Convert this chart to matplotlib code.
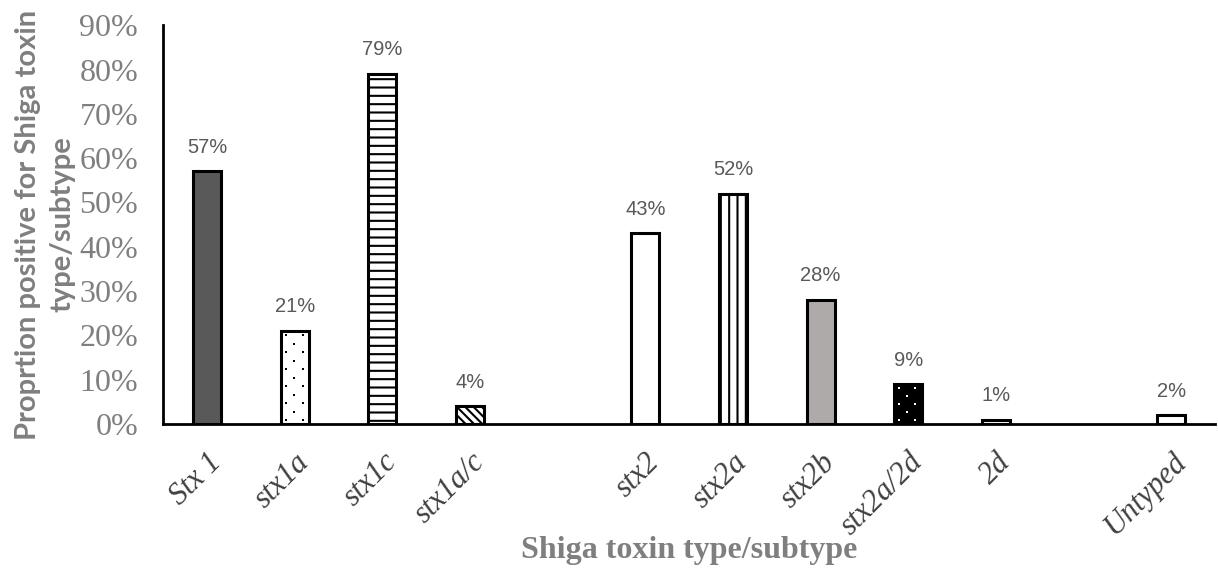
import numpy as np
import matplotlib.pyplot as plt

# Shiga toxin typing results, grouped stx1 / stx2 / untyped (empty slots separate groups)
categories = ['Stx 1', 'stx1a', 'stx1c', 'stx1a/c', '',
              'stx2', 'stx2a', 'stx2b', 'stx2a/2d', '2d', '', 'Untyped']
values = [0.57, 0.21, 0.79, 0.04, None,
          0.43, 0.52, 0.28, 0.09, 0.01, None, 0.02]
labels = ['57%', '21%', '79%', '4%', '',
          '43%', '52%', '28%', '9%', '1%', '', '2%']

fills = ['#595959', 'white', 'white', 'white', None,
         'white', 'white', '#aeaaaa', 'black', 'white', None, 'white']
hatches = ['', 'dots', '--', '\\\\\\\\', None,
           '', '||', '', 'dots', '', None, '']

plt.rcParams['hatch.linewidth'] = 1.5

fig = plt.figure(figsize=(12.18, 5.73), dpi=100)
ax = fig.add_axes([0.134, 0.26, 0.8635, 0.696])
ax.set_xlim(-0.5, len(categories) - 0.5)
ax.set_ylim(0, 0.9)

# pixel -> data scale factors, used for the small dot texture
px_x = (len(categories)) / (0.8635 * 1218)
px_y = 0.9 / (0.696 * 573)

width = 0.32


def dot_texture(x0, top, color, dx, dy):
    # staggered grid of tiny dots inside a bar
    left, right = x0 - width / 2, x0 + width / 2
    ys = np.arange(4 * px_y, top - 3 * px_y, dy * px_y)
    for k, y in enumerate(ys):
        start = left + (5 if k % 2 == 0 else 5 + dx / 2) * px_x
        xs = np.arange(start, right - 3 * px_x, dx * px_x)
        ax.scatter(xs, np.full_like(xs, y), s=2.5, color=color, marker='s',
                   linewidths=0, zorder=3)


for i, v in enumerate(values):
    if v is None:
        continue
    h = hatches[i]
    if h == 'dots':
        ax.bar(i, v, width, color=fills[i], edgecolor='black', linewidth=2.2, zorder=2)
        if fills[i] == 'black':
            dot_texture(i, v, 'white', 16, 8)
        else:
            dot_texture(i, v, 'black', 17, 8.5)
    else:
        ax.bar(i, v, width, color=fills[i], edgecolor='black', hatch=h,
               linewidth=2.2, zorder=2)
    ax.text(i, v + 0.033, labels[i], ha='center', va='bottom',
            fontsize=14.5, color='#595959', family='Liberation Sans')

yticks = [i / 10 for i in range(10)]
ax.set_yticks(yticks)
ax.set_yticklabels([f'{int(round(t * 100))}%' for t in yticks],
                   family='Liberation Serif', fontsize=23, color='#7f7f7f')

tick_pos = [i for i, c in enumerate(categories) if c]
ax.set_xticks(tick_pos)
ax.set_xticklabels([categories[i] for i in tick_pos], rotation=45, ha='right',
                   rotation_mode='anchor', family='Liberation Serif', style='italic',
                   fontsize=22, color='#404040')
ax.tick_params(axis='both', length=0)
ax.tick_params(axis='x', pad=17)
ax.tick_params(axis='y', pad=18)

for s in ['top', 'right']:
    ax.spines[s].set_visible(False)
for s in ['left', 'bottom']:
    ax.spines[s].set_linewidth(2)
    ax.spines[s].set_color('black')

ax.set_ylabel('Proprtion positive for Shiga toxin\ntype/subtype', fontsize=21,
              fontweight='bold', color='#7f7f7f', family='Lato', linespacing=1.42)
ax.yaxis.set_label_coords(-0.083, 0.5)
ax.set_xlabel('Shiga toxin type/subtype', fontsize=23, fontweight='bold',
              color='#7f7f7f', family='Liberation Serif')
ax.xaxis.set_label_coords(0.5, -0.28)

fig.savefig('out.png', dpi=100)
